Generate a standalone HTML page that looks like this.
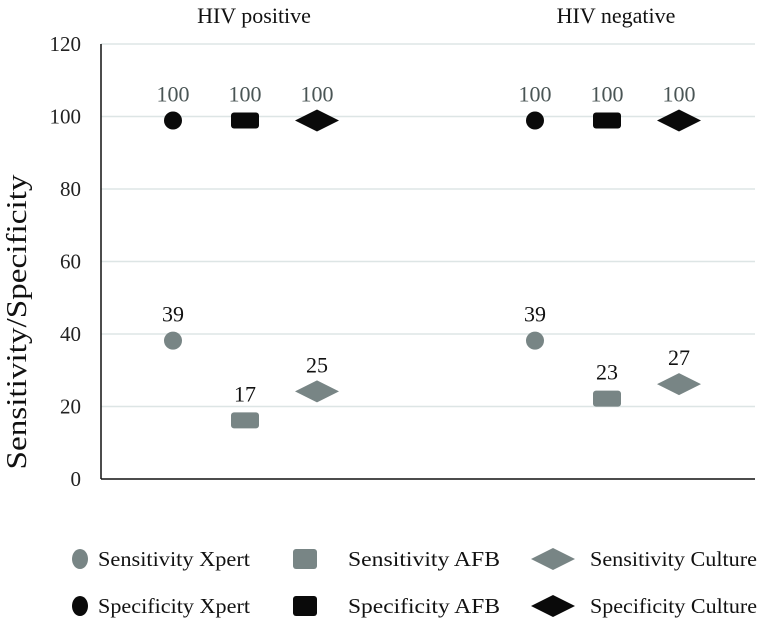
<!DOCTYPE html>
<html><head><meta charset="utf-8"><style>body{margin:0;background:#fff}svg{display:block;font-family:"Liberation Serif",serif}</style></head>
<body>
<svg id="c" width="759" height="624"></svg>
<script>
const groups = ["HIV positive", "HIV negative"];
const tests = ["Xpert", "AFB", "Culture"];
const sensitivity = [[39, 17, 25], [39, 23, 27]];
const specificity = [[100, 100, 100], [100, 100, 100]];
const yTicks = [0, 20, 40, 60, 80, 100, 120];

const svg = document.getElementById('c');
const NS = 'http://www.w3.org/2000/svg';
const X0 = 101, X1 = 755, Y0 = 479, Y1 = 44;
const y = v => Y0 - (v / 120) * (Y0 - Y1);
const groupCenter = [245, 607];
const x = (g, t) => groupCenter[g] + (t - 1) * 72;
function mk(tag, attrs, parent) {
  const e = document.createElementNS(NS, tag);
  for (const k in attrs) e.setAttribute(k, attrs[k]);
  (parent || svg).appendChild(e);
  return e;
}
yTicks.forEach(v => {
  if (v > 0) {
    const l = mk('line', {x1: X0, x2: X1, y1: y(v), y2: y(v), stroke: '#dde5e5', 'stroke-width': 1.5});
    
    
  }
  const t = mk('text', {x: 81, y: y(v) + 7, 'text-anchor': 'end', 'font-size': 21, fill: '#222'});
  t.textContent = v;
  
  
});
const ax = mk('line', {x1: X0, x2: X0, y1: Y1, y2: Y0, stroke: '#111', 'stroke-width': 1.5});


const ax2 = mk('line', {x1: X0, x2: X1, y1: Y0, y2: Y0, stroke: '#111', 'stroke-width': 1.5});


const yt = mk('text', {x: 0, y: 0, transform: 'translate(26,322) rotate(-90)', 'text-anchor': 'middle', 'font-size': 28, fill: '#111', textLength: 295, lengthAdjust: 'spacingAndGlyphs'});
yt.textContent = 'Sensitivity/Specificity';


groups.forEach((g, i) => {
  const t = mk('text', {x: groupCenter[i] + 9, y: 23, 'text-anchor': 'middle', 'font-size': 22, fill: '#111'});
  t.textContent = g;
  
  
});
function marker(type, cx, cy, fill, big) {
  let e;
  if (type === 0) e = big ? mk('circle', {cx, cy, r: 9, fill}) : mk('ellipse', {cx, cy, rx: 8, ry: 10, fill});
  else if (type === 1) e = big ? mk('rect', {x: cx - 14, y: cy - 8, width: 28, height: 16, rx: 3, fill}) : mk('rect', {x: cx - 12, y: cy - 10, width: 24, height: 20, rx: 3, fill});
  else e = mk('polygon', {points: `${cx-22},${cy} ${cx},${cy-11} ${cx+22},${cy} ${cx},${cy+11}`, fill});
  return e;
}
const GRAY = '#788585', BLACK = '#0a0a0a';
groups.forEach((g, gi) => {
  tests.forEach((t, ti) => {
    const cx = x(gi, ti);
    let m = marker(ti, cx, y(sensitivity[gi][ti]) + 3, GRAY, true);
    
    
    let l = mk('text', {x: cx, y: y(sensitivity[gi][ti]) - 16, 'text-anchor': 'middle', 'font-size': 22, fill: '#111'});
    l.textContent = sensitivity[gi][ti];
    
    
    m = marker(ti, cx, y(specificity[gi][ti]) + 4, BLACK, true);
    
    
    l = mk('text', {x: cx, y: y(specificity[gi][ti]) - 15, 'text-anchor': 'middle', 'font-size': 22, fill: '#4a5555'});
    l.textContent = specificity[gi][ti];
    
    
  });
});
const legX = [80, 305, 553], legTX = [98, 348, 590], legY = [559, 606];
const legW = [152, 152, 167];
['Sensitivity', 'Specificity'].forEach((s, r) => {
  tests.forEach((t, ti) => {
    const m = marker(ti, legX[ti], legY[r], r ? BLACK : GRAY, false);
    
    
    const tx = mk('text', {x: legTX[ti], y: legY[r] + 7, 'font-size': 21, fill: '#111', textLength: legW[ti], lengthAdjust: 'spacingAndGlyphs'});
    tx.textContent = s + ' ' + t;
    
    
  });
});
</script>
</body></html>
